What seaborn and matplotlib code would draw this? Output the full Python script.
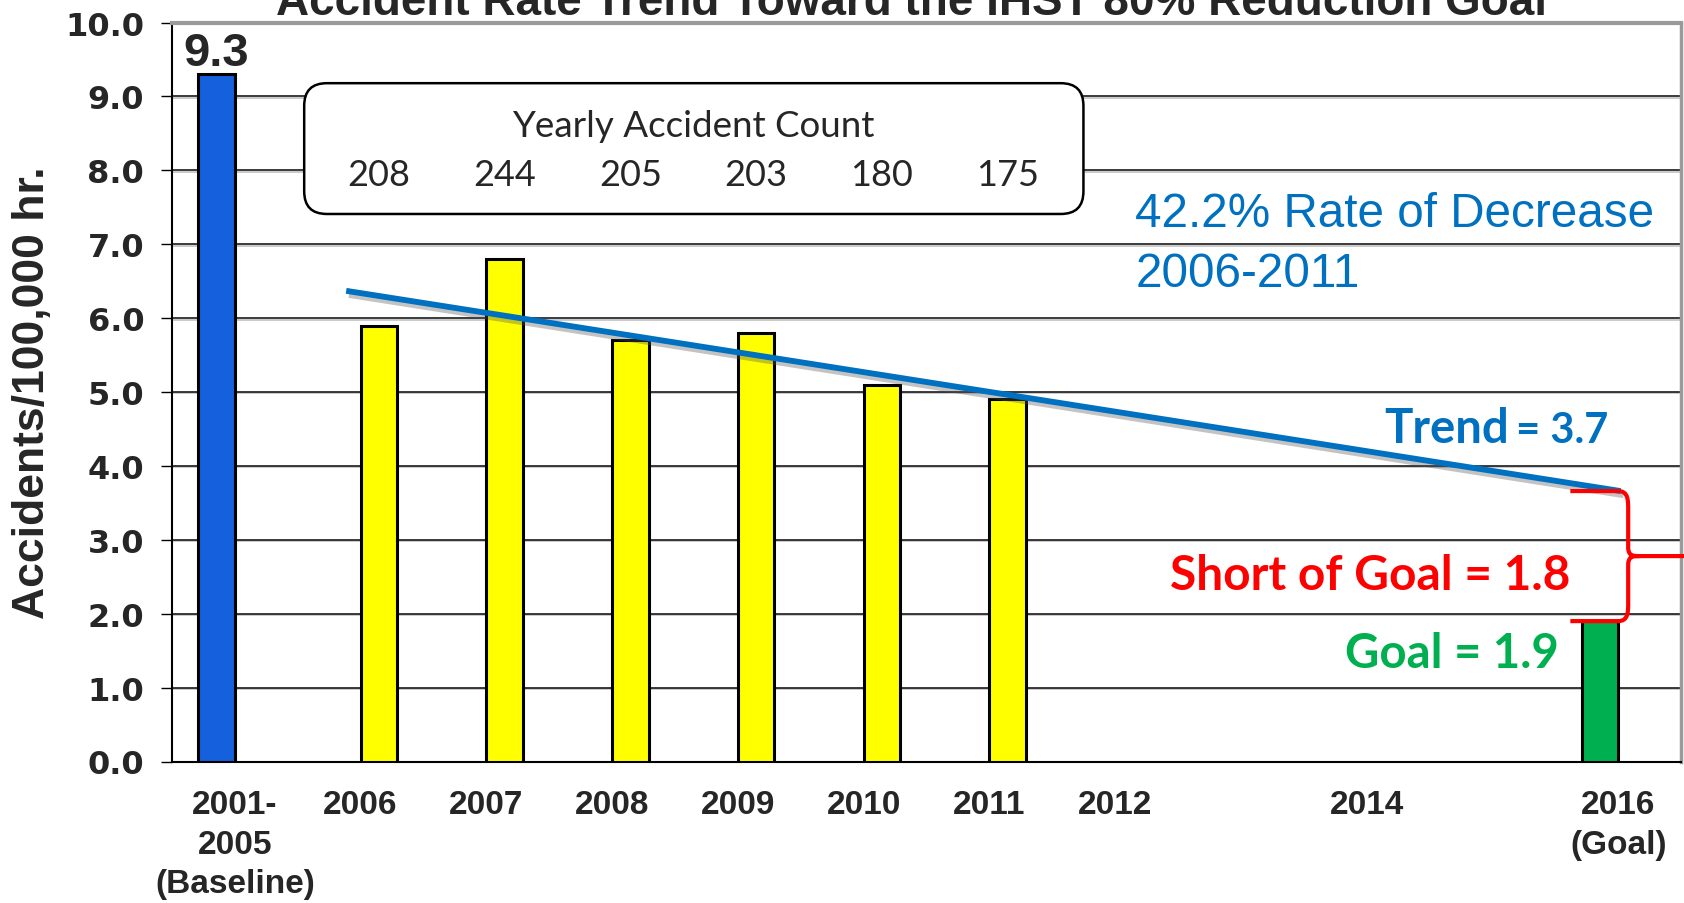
import numpy as np
import pandas as pd
import seaborn as sns
import matplotlib.pyplot as plt
import matplotlib.patheffects as pe
from matplotlib.patches import FancyBboxPatch, PathPatch
from matplotlib.path import Path

# data
categories = ['Baseline', '2006', '2007', '2008', '2009', '2010', '2011',
              '2012', '2013', '2014', '2015', '2016']
tick_labels = ['2001-\n2005\n(Baseline)', '2006', '2007', '2008', '2009', '2010',
               '2011', '2012', '', '2014', '', '2016\n(Goal)']
ref_cats = ['Baseline', '2016']
ref_rates = [9.3, 1.9]
ref_colors = ['#1560DD', '#00B050']
year_cats = ['2006', '2007', '2008', '2009', '2010', '2011']
year_rates = [5.9, 6.8, 5.7, 5.8, 5.1, 4.9]
year_counts = [208, 244, 205, 203, 180, 175]
trend_x = [0.885, 11.02]      # category index positions
trend_y = [6.37, 3.66]
goal_value = 1.9

df = pd.DataFrame({
    'category': ref_cats + year_cats,
    'rate': ref_rates + year_rates,
    'series': ['ref'] * len(ref_cats) + ['year'] * len(year_cats),
})

sns.set_theme(style='white')
plt.rcParams['font.family'] = ['Liberation Sans', 'DejaVu Sans']

fig = plt.figure(figsize=(16.84, 9.04), dpi=100)
ax = fig.add_axes([172 / 1684, 1 - 762.5 / 904, 1509 / 1684, 738.9 / 904])

sns.barplot(data=df, x='category', y='rate', hue='series', order=categories,
            hue_order=['ref', 'year'], palette={'ref': '#1560DD', 'year': '#FFFF00'},
            width=0.58, dodge=True, edgecolor='black', linewidth=2.2, saturation=1,
            errorbar=None, legend=False, ax=ax, zorder=3)

# baseline blue, goal green
ref_bars = sorted(ax.containers[0], key=lambda b: b.get_x())
for bar, c in zip(ref_bars, ref_colors):
    bar.set_facecolor(c)

ax.set_xlim(-0.5, 11.5)
ax.set_ylim(0, 10)
ax.set_yticks(np.arange(0, 11, 1))
ax.set_yticklabels([f'{v:.1f}' for v in np.arange(0, 11, 1)],
                   fontfamily='DejaVu Sans', fontweight='bold', fontsize=23)
ax.set_xticks(range(len(categories)))
ax.set_xticklabels(tick_labels, fontweight='bold', fontsize=24, linespacing=1.35)
ax.set_xticks(np.arange(-0.5, 12, 1), minor=True)
ax.tick_params(axis='x', which='major', length=0, pad=20)
ax.tick_params(axis='x', which='minor', length=9.5, width=1, color='black', direction='out')
ax.tick_params(axis='y', length=8, width=1, color='black', direction='out', pad=12, left=True)
ax.set_xlabel('')
ax.set_ylabel('Accidents/100,000 hr.', fontsize=32, fontweight='bold', labelpad=9)

ax.yaxis.grid(True, color='#1a1a1a', linewidth=1.2)
ax.yaxis.get_gridlines()[-1].set_visible(False)
for gl in ax.yaxis.get_gridlines():
    gl.set_path_effects([pe.SimpleLineShadow(offset=(0, -1), shadow_color='#999999', alpha=0.6),
                         pe.Normal()])
ax.set_axisbelow(True)

for s in ['left', 'bottom']:
    ax.spines[s].set_color('black')
    ax.spines[s].set_linewidth(1.5)
ax.spines['top'].set_color('#9a9a9a')
ax.spines['top'].set_linewidth(3)
ax.spines['right'].set_color('#9a9a9a')
ax.spines['right'].set_linewidth(2.5)

# title (clipped at top edge as in the source)
fig.text(0.541, 1 - 15 / 904, 'Accident Rate Trend Toward the IHST 80% Reduction Goal',
         ha='center', va='baseline', fontsize=33, fontweight='bold')

# baseline value label
ax.text(ref_bars[0].get_x() + ref_bars[0].get_width() / 2, ref_rates[0] + 0.12,
        f'{ref_rates[0]:.1f}', ha='center', va='baseline', fontsize=34, fontweight='bold')

# yearly count box
box = FancyBboxPatch((0.0876, 0.741), 0.604 - 0.0876, 0.918 - 0.741,
                     boxstyle='round,pad=0,rounding_size=0.015', mutation_aspect=1509 / 739,
                     transform=ax.transAxes, facecolor='white', edgecolor='black',
                     linewidth=1.8, zorder=4)
ax.add_patch(box)
ax.text(3.645, 8.61, 'Yearly Accident Count', ha='center', va='center',
        fontsize=26.5, family=['Lato', 'DejaVu Sans'], color='#262626', zorder=5)
year_bars = sorted(ax.containers[1], key=lambda b: b.get_x())
for bar, n in zip(year_bars, year_counts):
    ax.text(bar.get_x() + bar.get_width() / 2, 7.95, str(n), ha='center', va='center',
            fontsize=26, family=['Lato', 'DejaVu Sans'], color='#262626', zorder=5)

# trend line
ax.plot(trend_x, trend_y, color='#0070C0', linewidth=4.2, solid_capstyle='butt', zorder=6,
        path_effects=[pe.SimpleLineShadow(offset=(2, -3), shadow_color='#555555', alpha=0.35),
                      pe.Normal()])

ax.text(7.16, 7.41, '42.2% Rate of Decrease', ha='left', va='center',
        fontsize=34.3, color='#0070C0')
ax.text(7.16, 6.61, '2006-2011', ha='left', va='center', fontsize=34.3, color='#0070C0')

lato = ['Lato', 'DejaVu Sans']
ax.text(10.135, 4.32, 'Trend', ha='right', va='baseline', fontsize=34,
        fontweight='bold', family=lato, color='#0070C0')
ax.text(10.19, 4.32, '= 3.7', ha='left', va='baseline', fontsize=30,
        fontweight='bold', family=lato, color='#0070C0')
ax.text(10.62, 2.33, 'Short of Goal = 1.8', ha='right', va='baseline', fontsize=34.5,
        fontweight='bold', family=lato, color='#FF0000')
ax.text(10.53, 1.28, 'Goal = 1.9', ha='right', va='baseline', fontsize=34,
        fontweight='bold', family=lato, color='#00B050')

# red brace between trend end and goal
top, bot = trend_y[1], goal_value
mid = (top + bot) / 2
verts = [(10.62, top), (11.0, top),
         (11.08, top), (11.08, top - 0.12), (11.08, top - 0.25),
         (11.08, mid + 0.12),
         (11.08, mid), (11.12, mid), (11.17, mid),
         (11.53, mid),
         (11.17, mid),
         (11.12, mid), (11.08, mid), (11.08, mid - 0.12),
         (11.08, bot + 0.25),
         (11.08, bot + 0.12), (11.08, bot), (11.0, bot),
         (10.62, bot)]
codes = [Path.MOVETO, Path.LINETO,
         Path.CURVE4, Path.CURVE4, Path.CURVE4,
         Path.LINETO,
         Path.CURVE4, Path.CURVE4, Path.CURVE4,
         Path.LINETO,
         Path.MOVETO,
         Path.CURVE4, Path.CURVE4, Path.CURVE4,
         Path.LINETO,
         Path.CURVE4, Path.CURVE4, Path.CURVE4,
         Path.LINETO]
brace = PathPatch(Path(verts, codes), facecolor='none', edgecolor='#FF0000',
                  linewidth=3, clip_on=False, zorder=7)
ax.add_patch(brace)

fig.savefig('out.png', dpi=100)
